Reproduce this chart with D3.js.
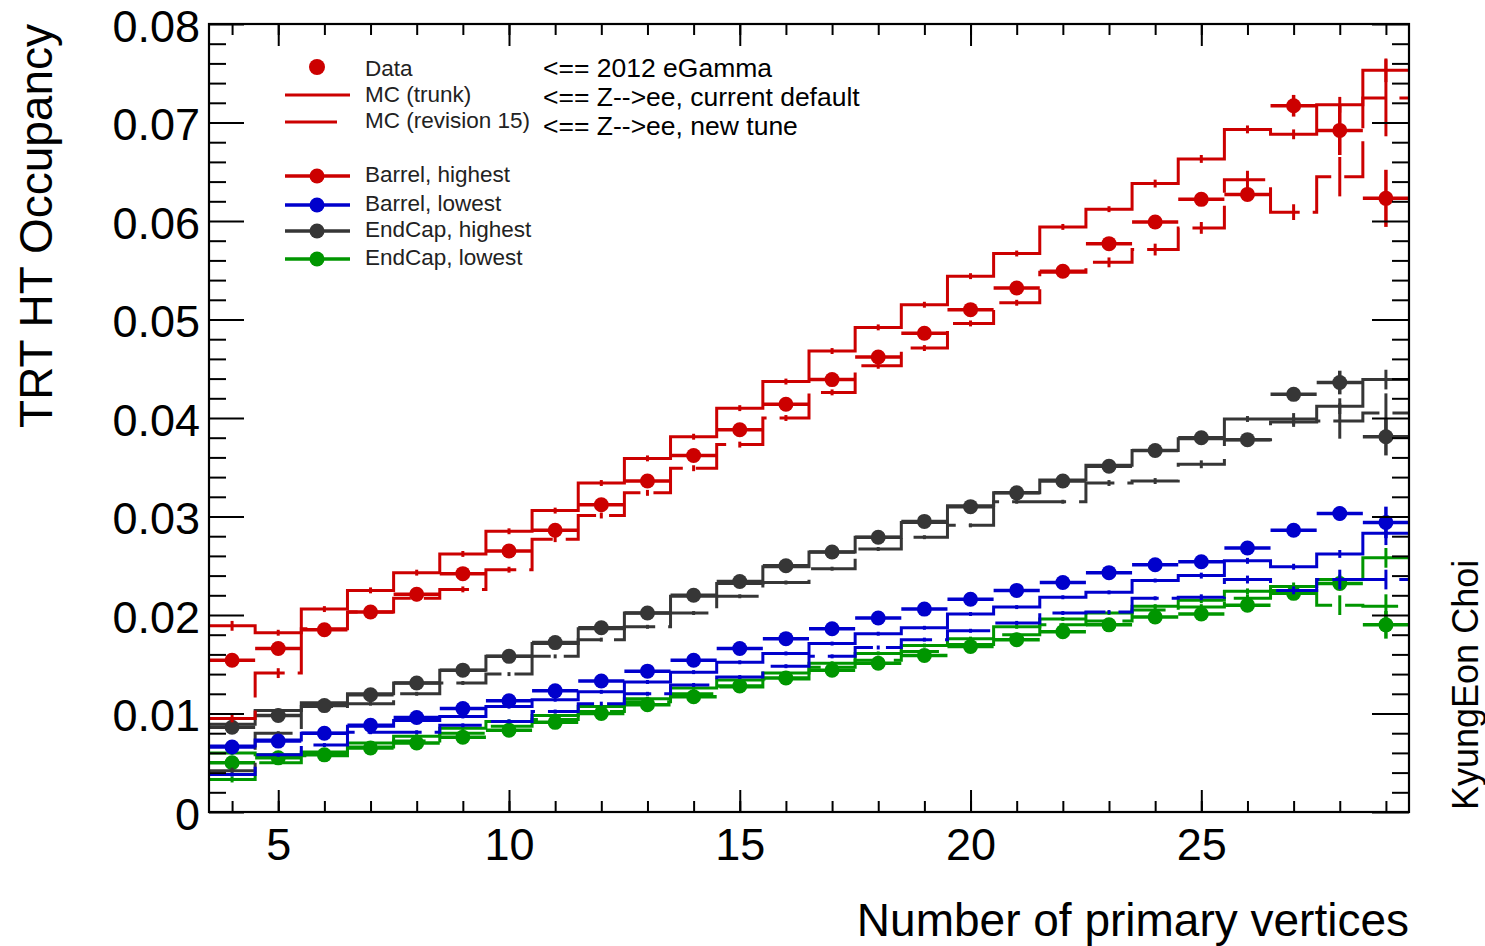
<!DOCTYPE html>
<html>
<head>
<meta charset="utf-8">
<script src="https://cdn.jsdelivr.net/npm/d3@7/dist/d3.min.js"></script>
<style>
  html, body { margin: 0; padding: 0; background: #fff; }
  svg { display: block; font-family: "Liberation Sans", Arial, Helvetica, sans-serif; }
</style>
</head>
<body>
<svg id="chart" width="1485" height="946"></svg>
<script>
// Number of primary vertices (bin centres, unit-width bins)
const nVtx = [4,5,6,7,8,9,10,11,12,13,14,15,16,17,18,19,20,21,22,23,24,25,26,27,28,29];

// Barrel, highest
const dataBarrelHigh  = [0.0154,0.0166,0.0185,0.0203,0.0221,0.0242,0.0265,0.0286,0.0312,0.0336,0.0362,0.0388,0.0414,0.0439,0.0462,0.0486,0.0510,0.0532,0.0549,0.0577,0.0599,0.0622,0.0627,0.0717,0.0692,0.0623];
const errDataBarrelHigh = [0.0003,0.0003,0.0003,0.0003,0.0003,0.0003,0.0003,0.0003,0.0003,0.0003,0.0003,0.0003,0.0003,0.0003,0.0003,0.0003,0.0003,0.0003,0.0003,0.0003,0.0003,0.0003,0.0004,0.0011,0.0025,0.0029];
const trunkBarrelHigh = [0.0189,0.0182,0.0206,0.0225,0.0243,0.0262,0.0285,0.0306,0.0334,0.0359,0.0381,0.0410,0.0437,0.0468,0.0492,0.0515,0.0544,0.0567,0.0594,0.0612,0.0638,0.0663,0.0693,0.0688,0.0718,0.0753];
const errTrunkBarrelHigh = [0.0005,0.0003,0.0003,0.0003,0.0003,0.0003,0.0003,0.0003,0.0003,0.0003,0.0003,0.0003,0.0003,0.0003,0.0003,0.0003,0.0003,0.0003,0.0003,0.0003,0.0004,0.0004,0.0004,0.0005,0.0008,0.0012];
const rev15BarrelHigh = [0.0095,0.0141,0.0186,0.0203,0.0217,0.0226,0.0246,0.0277,0.0301,0.0324,0.0349,0.0373,0.0400,0.0426,0.0453,0.0471,0.0496,0.0517,0.0548,0.0558,0.0571,0.0593,0.0642,0.0609,0.0645,0.0725];
const errRev15BarrelHigh = [0.0004,0.0005,0.0003,0.0003,0.0003,0.0003,0.0003,0.0003,0.0003,0.0003,0.0003,0.0003,0.0003,0.0003,0.0003,0.0003,0.0003,0.0003,0.0003,0.0005,0.0006,0.0006,0.0009,0.0008,0.0020,0.0039];

// Barrel, lowest
const dataBarrelLow  = [0.0066,0.0072,0.0080,0.0088,0.0096,0.0105,0.0113,0.0123,0.0133,0.0143,0.0154,0.0166,0.0176,0.0186,0.0197,0.0206,0.0216,0.0225,0.0233,0.0243,0.0251,0.0254,0.0268,0.0286,0.0303,0.0294];
const errDataBarrelLow = [0.0002,0.0002,0.0002,0.0002,0.0002,0.0002,0.0002,0.0002,0.0002,0.0002,0.0002,0.0002,0.0002,0.0002,0.0002,0.0002,0.0002,0.0002,0.0002,0.0002,0.0002,0.0003,0.0003,0.0005,0.0007,0.0016];
const trunkBarrelLow = [0.0067,0.0073,0.0080,0.0087,0.0093,0.0097,0.0107,0.0114,0.0122,0.0132,0.0142,0.0152,0.0161,0.0171,0.0181,0.0187,0.0201,0.0208,0.0218,0.0223,0.0235,0.0240,0.0255,0.0249,0.0262,0.0283];
const errTrunkBarrelLow = [0.0002,0.0002,0.0002,0.0002,0.0002,0.0002,0.0002,0.0002,0.0002,0.0002,0.0002,0.0002,0.0002,0.0002,0.0002,0.0002,0.0002,0.0002,0.0002,0.0002,0.0002,0.0003,0.0003,0.0003,0.0004,0.0012];
const rev15BarrelLow = [0.0038,0.0058,0.0068,0.0081,0.0081,0.0088,0.0092,0.0102,0.0110,0.0120,0.0129,0.0137,0.0148,0.0158,0.0167,0.0175,0.0184,0.0192,0.0202,0.0203,0.0217,0.0218,0.0236,0.0225,0.0236,0.0236];
const errRev15BarrelLow = [0.0002,0.0002,0.0002,0.0002,0.0002,0.0002,0.0002,0.0002,0.0002,0.0002,0.0002,0.0002,0.0002,0.0002,0.0002,0.0002,0.0002,0.0002,0.0002,0.0002,0.0002,0.0003,0.0004,0.0004,0.0010,0.0010];

// EndCap, highest
const dataEndcapHigh  = [0.0086,0.0098,0.0108,0.0119,0.0131,0.0144,0.0158,0.0172,0.0187,0.0202,0.0220,0.0234,0.0250,0.0264,0.0279,0.0295,0.0310,0.0324,0.0336,0.0351,0.0367,0.0380,0.0378,0.0424,0.0436,0.0381];
const errDataEndcapHigh = [0.0002,0.0002,0.0002,0.0002,0.0002,0.0002,0.0002,0.0002,0.0002,0.0002,0.0002,0.0002,0.0002,0.0002,0.0002,0.0002,0.0002,0.0002,0.0002,0.0002,0.0002,0.0003,0.0003,0.0006,0.0012,0.0019];
const trunkEndcapHigh = [0.0089,0.0103,0.0111,0.0120,0.0131,0.0144,0.0158,0.0171,0.0186,0.0202,0.0219,0.0232,0.0249,0.0264,0.0279,0.0294,0.0311,0.0324,0.0337,0.0352,0.0367,0.0379,0.0399,0.0399,0.0412,0.0439];
const errTrunkEndcapHigh = [0.0002,0.0002,0.0002,0.0002,0.0002,0.0002,0.0002,0.0002,0.0002,0.0002,0.0002,0.0002,0.0002,0.0002,0.0002,0.0002,0.0002,0.0002,0.0002,0.0002,0.0003,0.0003,0.0003,0.0006,0.0008,0.0010];
const rev15EndcapHigh = [0.0042,0.0080,0.0107,0.0110,0.0120,0.0131,0.0140,0.0158,0.0175,0.0188,0.0202,0.0219,0.0233,0.0247,0.0267,0.0279,0.0291,0.0315,0.0315,0.0334,0.0336,0.0353,0.0378,0.0396,0.0397,0.0405];
const errRev15EndcapHigh = [0.0003,0.0002,0.0002,0.0002,0.0002,0.0002,0.0002,0.0002,0.0002,0.0002,0.0002,0.0002,0.0002,0.0002,0.0002,0.0002,0.0002,0.0002,0.0002,0.0003,0.0003,0.0004,0.0004,0.0005,0.0018,0.0020];

// EndCap, lowest
const dataEndcapLow  = [0.0050,0.0055,0.0058,0.0065,0.0070,0.0076,0.0083,0.0091,0.0100,0.0109,0.0117,0.0128,0.0136,0.0144,0.0151,0.0159,0.0168,0.0175,0.0183,0.0190,0.0198,0.0201,0.0210,0.0222,0.0232,0.0190];
const errDataEndcapLow = [0.0002,0.0002,0.0002,0.0002,0.0002,0.0002,0.0002,0.0002,0.0002,0.0002,0.0002,0.0002,0.0002,0.0002,0.0002,0.0002,0.0002,0.0002,0.0002,0.0002,0.0002,0.0003,0.0003,0.0005,0.0006,0.0014];
const trunkEndcapLow = [0.0060,0.0058,0.0061,0.0070,0.0077,0.0085,0.0092,0.0098,0.0107,0.0115,0.0126,0.0134,0.0141,0.0151,0.0161,0.0169,0.0176,0.0188,0.0196,0.0202,0.0209,0.0215,0.0224,0.0229,0.0236,0.0258];
const errTrunkEndcapLow = [0.0002,0.0002,0.0002,0.0002,0.0002,0.0002,0.0002,0.0002,0.0002,0.0002,0.0002,0.0002,0.0002,0.0002,0.0002,0.0002,0.0002,0.0002,0.0002,0.0002,0.0002,0.0003,0.0003,0.0004,0.0005,0.0010];
const rev15EndcapLow = [0.0033,0.0050,0.0057,0.0066,0.0072,0.0080,0.0087,0.0094,0.0102,0.0112,0.0120,0.0127,0.0135,0.0147,0.0154,0.0163,0.0170,0.0180,0.0190,0.0194,0.0205,0.0208,0.0217,0.0225,0.0210,0.0209];
const errRev15EndcapLow = [0.0003,0.0002,0.0002,0.0002,0.0002,0.0002,0.0002,0.0002,0.0002,0.0002,0.0002,0.0002,0.0002,0.0002,0.0002,0.0002,0.0002,0.0002,0.0002,0.0003,0.0003,0.0003,0.0004,0.0004,0.0010,0.0012];

// Axis ticks
const xMajorTicks = [5,10,15,20,25];
const yMajorTicks = [0,0.01,0.02,0.03,0.04,0.05,0.06,0.07,0.08];
const yMinorTicks = [0.002,0.004,0.006,0.008,0.012,0.014,0.016,0.018,0.022,0.024,0.026,0.028,0.032,0.034,0.036,0.038,0.042,0.044,0.046,0.048,0.052,0.054,0.056,0.058,0.062,0.064,0.066,0.068,0.072,0.074,0.076,0.078];

const legendEntries = ["Barrel, highest", "Barrel, lowest", "EndCap, highest", "EndCap, lowest"];
const noteLines = ["<== 2012 eGamma", "<== Z-->ee, current default", "<== Z-->ee, new tune"];

// Groups in drawing order (last drawn on top)
const groups = [
  { name: "EndCap, lowest",  color: "#009600", data: dataEndcapLow,  errData: errDataEndcapLow,  trunk: trunkEndcapLow,  errTrunk: errTrunkEndcapLow,  rev15: rev15EndcapLow,  errRev15: errRev15EndcapLow },
  { name: "EndCap, highest", color: "#363636", data: dataEndcapHigh, errData: errDataEndcapHigh, trunk: trunkEndcapHigh, errTrunk: errTrunkEndcapHigh, rev15: rev15EndcapHigh, errRev15: errRev15EndcapHigh },
  { name: "Barrel, lowest",  color: "#0000cc", data: dataBarrelLow,  errData: errDataBarrelLow,  trunk: trunkBarrelLow,  errTrunk: errTrunkBarrelLow,  rev15: rev15BarrelLow,  errRev15: errRev15BarrelLow },
  { name: "Barrel, highest", color: "#cc0000", data: dataBarrelHigh, errData: errDataBarrelHigh, trunk: trunkBarrelHigh, errTrunk: errTrunkBarrelHigh, rev15: rev15BarrelHigh, errRev15: errRev15BarrelHigh }
];

const svg = d3.select("#chart");
svg.append("rect").attr("width", 1485).attr("height", 946).attr("fill", "#fff");

const frame = { left: 209, right: 1409, top: 24, bottom: 812 };
const x = d3.scaleLinear().domain([3.5, 29.5]).range([frame.left, frame.right]);
const y = d3.scaleLinear().domain([0, 0.08]).range([frame.bottom, frame.top]);

svg.append("clipPath").attr("id", "plotClip")
  .append("rect")
  .attr("x", frame.left).attr("y", frame.top)
  .attr("width", frame.right - frame.left).attr("height", frame.bottom - frame.top);

const plot = svg.append("g").attr("clip-path", "url(#plotClip)");

const DASH = "54,13";
const LW = 3;

// Histogram outline: flat across each bin, vertical joins at bin edges
const stepLine = d3.line().x(d => x(d[0])).y(d => y(d[1]));
function stepPoints(vals) {
  const pts = [];
  nVtx.forEach((n, i) => { pts.push([n - 0.5, vals[i]]); pts.push([n + 0.5, vals[i]]); });
  return pts;
}

function drawHist(g, vals, errs, color, dashed) {
  g.append("path")
    .attr("d", stepLine(stepPoints(vals)))
    .attr("fill", "none")
    .attr("stroke", color)
    .attr("stroke-width", LW)
    .attr("stroke-dasharray", dashed ? DASH : null)
    .attr("stroke-linejoin", "miter");
  g.selectAll(null).data(nVtx).enter().append("line")
    .attr("x1", d => x(d)).attr("x2", d => x(d))
    .attr("y1", (d, i) => y(vals[i] - errs[i]))
    .attr("y2", (d, i) => y(vals[i] + errs[i]))
    .attr("stroke", color).attr("stroke-width", LW);
}

function drawData(g, vals, errs, color) {
  g.selectAll(null).data(nVtx).enter().append("line")
    .attr("x1", d => x(d - 0.5)).attr("x2", d => x(d + 0.5))
    .attr("y1", (d, i) => y(vals[i])).attr("y2", (d, i) => y(vals[i]))
    .attr("stroke", color).attr("stroke-width", 3.5);
  g.selectAll(null).data(nVtx).enter().append("line")
    .attr("x1", d => x(d)).attr("x2", d => x(d))
    .attr("y1", (d, i) => y(vals[i] - errs[i]))
    .attr("y2", (d, i) => y(vals[i] + errs[i]))
    .attr("stroke", color).attr("stroke-width", 3.5);
  g.selectAll(null).data(nVtx).enter().append("circle")
    .attr("cx", d => x(d)).attr("cy", (d, i) => y(vals[i]))
    .attr("r", 7.5).attr("fill", color);
}

groups.forEach(gr => {
  const g = plot.append("g");
  drawHist(g, gr.trunk, gr.errTrunk, gr.color, false);
  drawHist(g, gr.rev15, gr.errRev15, gr.color, true);
  drawData(g, gr.data, gr.errData, gr.color);
});

// Axes (ticks point inward on all four sides)
function styleAxis(sel) {
  sel.select(".domain").remove();
  sel.selectAll(".tick line").attr("stroke", "#000").attr("stroke-width", 2);
  sel.selectAll("text").attr("fill", "#000")
    .style("font-family", '"Liberation Sans", Arial, sans-serif')
    .style("font-size", "45px");
}

svg.append("g").attr("transform", `translate(0,${frame.bottom})`)
  .call(d3.axisBottom(x).tickValues(nVtx).tickSize(-11).tickFormat(""))
  .call(styleAxis);
svg.append("g").attr("transform", `translate(0,${frame.bottom})`)
  .call(d3.axisBottom(x).tickValues(xMajorTicks).tickSize(-22).tickPadding(16).tickFormat(d3.format("d")))
  .call(styleAxis);
svg.append("g").attr("transform", `translate(0,${frame.top})`)
  .call(d3.axisTop(x).tickValues(nVtx).tickSize(-11).tickFormat(""))
  .call(styleAxis);
svg.append("g").attr("transform", `translate(0,${frame.top})`)
  .call(d3.axisTop(x).tickValues(xMajorTicks).tickSize(-22).tickFormat(""))
  .call(styleAxis);

svg.append("g").attr("transform", `translate(${frame.left},0)`)
  .call(d3.axisLeft(y).tickValues(yMinorTicks).tickSize(-17).tickFormat(""))
  .call(styleAxis);
svg.append("g").attr("transform", `translate(${frame.left},0)`)
  .call(d3.axisLeft(y).tickValues(yMajorTicks).tickSize(-35).tickPadding(9)
    .tickFormat(d => d === 0 ? "0" : d3.format(".2f")(d)))
  .call(styleAxis)
  .call(g => g.selectAll("text").attr("dy", "0.38em"));
svg.append("g").attr("transform", `translate(${frame.right},0)`)
  .call(d3.axisRight(y).tickValues(yMinorTicks).tickSize(-17).tickFormat(""))
  .call(styleAxis);
svg.append("g").attr("transform", `translate(${frame.right},0)`)
  .call(d3.axisRight(y).tickValues(yMajorTicks).tickSize(-37).tickFormat(""))
  .call(styleAxis);

// Frame
svg.append("rect")
  .attr("x", frame.left).attr("y", frame.top)
  .attr("width", frame.right - frame.left).attr("height", frame.bottom - frame.top)
  .attr("fill", "none").attr("stroke", "#000").attr("stroke-width", 2.2);

// Axis titles
svg.append("text")
  .attr("transform", `translate(52,${frame.top}) rotate(-90)`)
  .attr("text-anchor", "end")
  .style("font-size", "46px").attr("fill", "#000")
  .text("TRT HT Occupancy");
svg.append("text")
  .attr("x", frame.right).attr("y", 936)
  .attr("text-anchor", "end")
  .style("font-size", "46px").attr("fill", "#000")
  .text("Number of primary vertices");

// Author tag, reading upward from the bottom of the frame
svg.append("text")
  .attr("transform", "translate(1478,810) rotate(-90)")
  .attr("text-anchor", "start")
  .style("font-size", "36px").attr("fill", "#000")
  .text("KyungEon Choi");

// Legend
const leg = svg.append("g");
const legColor = "#cc0000";
const legTextX = 365;
const legFont = "22.5px";
const legTextColor = "#222";

leg.append("circle").attr("cx", 317).attr("cy", 67).attr("r", 8).attr("fill", legColor);
leg.append("text").attr("x", legTextX).attr("y", 76).style("font-size", legFont).attr("fill", legTextColor).text("Data");

leg.append("line").attr("x1", 285).attr("x2", 350).attr("y1", 95).attr("y2", 95)
  .attr("stroke", legColor).attr("stroke-width", LW);
leg.append("text").attr("x", legTextX).attr("y", 102).style("font-size", legFont).attr("fill", legTextColor).text("MC (trunk)");

leg.append("line").attr("x1", 285).attr("x2", 350).attr("y1", 122).attr("y2", 122)
  .attr("stroke", legColor).attr("stroke-width", LW).attr("stroke-dasharray", "52,13");
leg.append("text").attr("x", legTextX).attr("y", 128).style("font-size", legFont).attr("fill", legTextColor).text("MC (revision 15)");

const legendColors = { "Barrel, highest": "#cc0000", "Barrel, lowest": "#0000cc", "EndCap, highest": "#363636", "EndCap, lowest": "#009600" };
const legRowsY = [176, 205, 231, 259];
const legTextY = [182, 211, 237, 265];
legendEntries.forEach((name, i) => {
  const c = legendColors[name];
  leg.append("line").attr("x1", 285).attr("x2", 350).attr("y1", legRowsY[i]).attr("y2", legRowsY[i])
    .attr("stroke", c).attr("stroke-width", 3.5);
  leg.append("circle").attr("cx", 317).attr("cy", legRowsY[i]).attr("r", 7.5).attr("fill", c);
  leg.append("text").attr("x", legTextX).attr("y", legTextY[i])
    .style("font-size", legFont).attr("fill", legTextColor).text(name);
});

// Sample notes
const noteY = [77, 106, 135];
noteLines.forEach((t, i) => {
  svg.append("text").attr("x", 543).attr("y", noteY[i])
    .style("font-size", "26.5px").attr("fill", "#000").text(t);
});
</script>
</body>
</html>
